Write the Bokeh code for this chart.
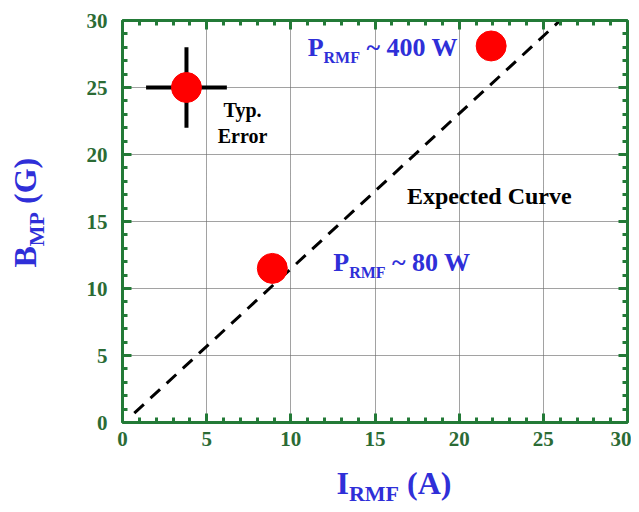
import math
from bokeh.plotting import figure
from bokeh.models import LinearAxis, SingleIntervalTicker, Label, Range1d, Grid
from bokeh.layouts import row, column
from bokeh.embed import file_html
from bokeh.resources import INLINE

# ---- data ----
i_rmf = [8.9, 21.9]          # A
b_mp = [11.5, 28.1]          # G
err_x = [3.8]
err_y = [25.0]
err_dx = [2.4]
err_dy = [3.0]
curve_x = [0.7, 26.0]
curve_y = [0.7, 30.0]
tick_interval = 5

FONT = "Liberation Serif"
GREEN = "#237a37"
GREEN_TXT = "#2b6b35"
BLUE = "#2f2fd8"
NB = "\u00a0"

FW, FH = 505, 402
XMAX, YMAX = 30, 30
PXX = FW / XMAX
PXY = FH / YMAX
BASE_FIX = 0.4       # baseline correction, fraction of font size

LEFT_W = 50          # strip holding the y-axis title
BOTTOM_H = 40        # strip holding the x-axis title
MAIN_TOP, MAIN_BOTTOM = 20, 44
MAIN_H = MAIN_TOP + FH + MAIN_BOTTOM
FRAME_LEFT = 122

p = figure(frame_width=FW, frame_height=FH, output_backend="svg", toolbar_location=None,
           x_range=Range1d(0, XMAX), y_range=Range1d(0, YMAX),
           min_border_left=FRAME_LEFT - LEFT_W, min_border_top=MAIN_TOP, min_border_right=4,
           min_border_bottom=MAIN_BOTTOM,
           x_axis_location=None, y_axis_location=None)
p.outline_line_color = None
p.background_fill_color = "white"
p.border_fill_color = "white"

TICKS = list(range(0, XMAX + 1, tick_interval))


def make_axis(labels=True):
    ax = LinearAxis(ticker=SingleIntervalTicker(interval=tick_interval, num_minor_ticks=5))
    ax.axis_line_color = GREEN
    ax.axis_line_width = 3
    ax.major_tick_line_color = GREEN
    ax.major_tick_line_width = 3
    ax.minor_tick_line_color = GREEN
    ax.minor_tick_line_width = 3
    ax.major_tick_in = 9
    ax.major_tick_out = 0
    ax.minor_tick_in = 5
    ax.minor_tick_out = 0
    if labels:
        ax.major_label_text_font = FONT
        ax.major_label_text_font_style = "bold"
        ax.major_label_text_font_size = "21px"
        ax.major_label_text_color = GREEN_TXT
    else:
        ax.major_label_overrides = {t: "" for t in TICKS}
        ax.major_label_standoff = 0
    return ax


bottom = make_axis()
bottom.major_label_standoff = 9
left = make_axis()
left.major_label_standoff = 15
top = make_axis(False)
right = make_axis(False)
p.add_layout(bottom, "below")
p.add_layout(left, "left")
p.add_layout(top, "above")
p.add_layout(right, "right")

for dim, ax in ((0, bottom), (1, left)):
    g = Grid(dimension=dim, ticker=ax.ticker)
    g.grid_line_color = "#5f5f5f"
    g.grid_line_dash = "1 1"
    g.grid_line_width = 1
    p.add_layout(g)

# expected curve
p.line(curve_x, curve_y, line_color="black", line_width=3, line_dash="13 9")

# typical error
ex0 = [x - d for x, d in zip(err_x, err_dx)]
ex1 = [x + d for x, d in zip(err_x, err_dx)]
ey0 = [y - d for y, d in zip(err_y, err_dy)]
ey1 = [y + d for y, d in zip(err_y, err_dy)]
p.segment(ex0, err_y, ex1, err_y, line_color="black", line_width=4)
p.segment(err_x, ey0, err_x, ey1, line_color="black", line_width=4)
p.scatter(err_x, err_y, size=30, fill_color="#ff0000", line_color="#ff0000")

# data points
p.scatter(i_rmf, b_mp, size=30, fill_color="#ff0000", line_color="#ff0000")

# text helpers
W = {"P": .611, "R": .722, "M": .944, "F": .611, " ": .25, NB: .25, "~": .52, "0": .5,
     "4": .5, "8": .5, "W": 1.0, "I": .389, "B": .667, "(": .333, ")": .333, "A": .722,
     "G": .778}


def width(t, size):
    return sum(W.get(c, .5) for c in t) * size


def rich(fig, x, y, pieces, color, sx=PXX, sy=PXY, angle=0.0):
    adv = 0.0
    for t, size, drop in pieces:
        fix = BASE_FIX * size
        if angle == 0:
            lx, ly = x + adv / sx, y + (fix - drop) / sy
        else:
            lx, ly = x + (drop - fix) / sx, y + adv / sy
        fig.add_layout(Label(x=lx, y=ly, text=t, text_font=FONT, text_font_style="bold",
                             text_font_size=f"{size}px", text_color=color, angle=angle,
                             text_align="left", text_baseline="alphabetic"))
        adv += width(t, size)


def plain(x, y, t, size, color="black", align="left"):
    p.add_layout(Label(x=x, y=y + BASE_FIX * size / PXY, text=t, text_font=FONT,
                       text_font_style="bold", text_font_size=f"{size}px", text_color=color,
                       text_align=align, text_baseline="alphabetic"))


plain(7.13, 22.76, "Typ.", 20, align="center")
plain(7.13, 20.75, "Error", 20, align="center")
plain(16.9, 16.2, "Expected Curve", 24)

rich(p, 11.0, 27.2, [("P", 26, 0), ("RMF", 16, 6), (NB + "~ 400 W", 26, 0)], BLUE)
rich(p, 12.52, 11.2, [("P", 26, 0), ("RMF", 16, 6), (NB + "~ 80 W", 26, 0)], BLUE)


def strip(w, h):
    f = figure(frame_width=w, frame_height=h, output_backend="svg", toolbar_location=None,
               x_range=Range1d(0, w), y_range=Range1d(0, h),
               min_border=0, x_axis_location=None, y_axis_location=None)
    f.outline_line_color = None
    f.grid.visible = False
    f.border_fill_color = "white"
    f.background_fill_color = "white"
    return f


# the column aligns this strip's frame with the main plot frame (page x = FRAME_LEFT)
xfig = strip(FW, BOTTOM_H)
rich(xfig, 336 - FRAME_LEFT, BOTTOM_H - 29, [("I", 32, 0), ("RMF", 22, 7), (NB + "(A)", 32, 0)],
     BLUE, sx=1, sy=1)

TOTAL_H = MAIN_H + BOTTOM_H
yfig = strip(LEFT_W, TOTAL_H)
rich(yfig, 37, TOTAL_H - 267, [("B", 32, 0), ("MP", 22, 8), (NB + "(G)", 32, 0)],
     BLUE, sx=1, sy=1, angle=math.pi / 2)

layout = row(yfig, column(p, xfig, spacing=0), spacing=0)

open("out.html", "w").write(file_html(layout, INLINE))
